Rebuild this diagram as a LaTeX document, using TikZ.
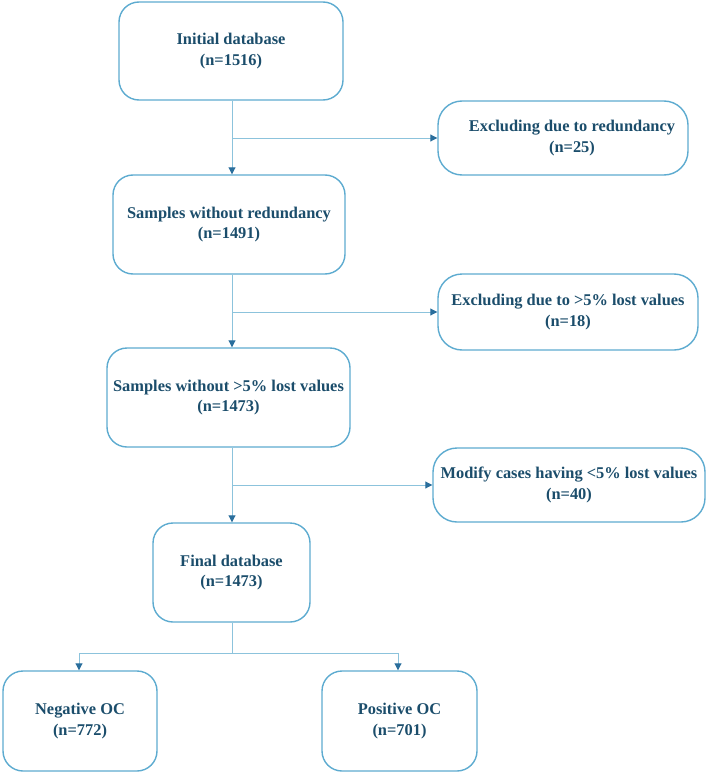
\documentclass[tikz,border=0pt]{standalone}
\usepackage{fontspec}
\setmainfont{Liberation Serif}
\usetikzlibrary{arrows.meta}
\definecolor{txt}{HTML}{1B4D6B}
\definecolor{bord}{HTML}{5DABD0}
\definecolor{lin}{HTML}{8CC3DC}
\definecolor{tip}{HTML}{2A6E9C}
\tikzset{
  box/.style={draw=bord, line width=1.4pt, rounded corners=20pt, align=center,
    font=\fontsize{16.4}{20.5}\selectfont\bfseries, text=txt, inner sep=0pt},
  conn/.style={draw=lin, line width=0.9pt, -{Triangle[length=7pt,width=7pt,color=tip]}},
  plain/.style={draw=lin, line width=0.9pt}
}
\begin{document}
\begin{tikzpicture}[x=1pt,y=-1pt]
\useasboundingbox (0,0) rectangle (708,773);
\node[box, minimum width=224pt, minimum height=98pt] (b1) at (231,51) {Initial database\\(n=1516)};
\node[box, minimum width=250pt, minimum height=74pt, rounded corners=24pt] (e1) at (563,138) {\hspace*{18pt}Excluding due to redundancy\\\hspace*{18pt}(n=25)};
\node[box, minimum width=232pt, minimum height=99pt] (b2) at (229,224.5) {Samples without redundancy\\(n=1491)};
\node[box, minimum width=260pt, minimum height=76pt, rounded corners=24pt] (e2) at (568,312) {Excluding due to >5\% lost values\\(n=18)};
\node[box, minimum width=243pt, minimum height=99pt] (b3) at (228.5,397.5) {Samples without >5\% lost values\\(n=1473)};
\node[box, minimum width=272pt, minimum height=74pt, rounded corners=24pt] (e3) at (569,485) {Modify cases having <5\% lost values\\(n=40)};
\node[box, minimum width=157pt, minimum height=99pt] (b4) at (231.5,572.5) {Final database\\(n=1473)};
\node[box, minimum width=154pt, minimum height=100pt] (n1) at (80,721) {Negative OC\\(n=772)};
\node[box, minimum width=155pt, minimum height=100pt] (p1) at (399.5,721) {Positive OC\\(n=701)};

\coordinate (j1) at (232,138);
\coordinate (j2) at (232,312);
\coordinate (j3) at (232,485);
\coordinate (j4) at (232,653);
\coordinate (jl) at (79,653);
\coordinate (jr) at (398,653);

\draw[conn] (b1.south -| j1) -- (b2.north -| j1);
\draw[conn] (j1) -- (e1.west);
\draw[conn] (b2.south -| j2) -- (b3.north -| j2);
\draw[conn] (j2) -- (e2.west);
\draw[conn] (b3.south -| j3) -- (b4.north -| j3);
\draw[conn] (j3) -- (e3.west);
\draw[plain] (b4.south -| j4) -- (j4);
\draw[plain] (jl) -- (jr);
\draw[conn] (jl) -- (n1.north -| jl);
\draw[conn] (jr) -- (p1.north -| jr);
\end{tikzpicture}
\end{document}
